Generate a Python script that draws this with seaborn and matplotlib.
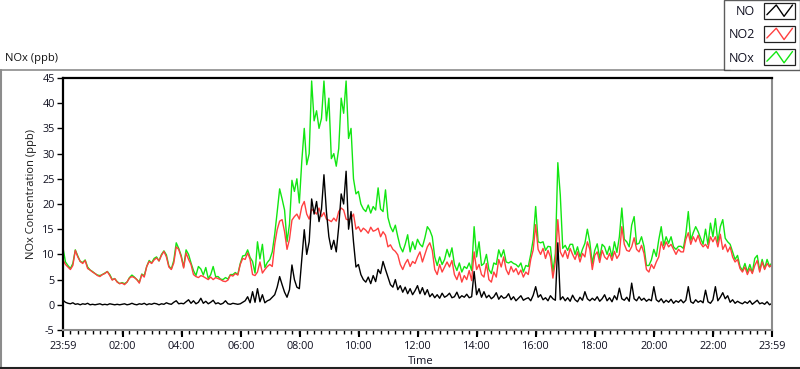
import numpy as np
import pandas as pd
import matplotlib
matplotlib.use("Agg")
import matplotlib.pyplot as plt
import seaborn as sns
from matplotlib.legend_handler import HandlerBase
from matplotlib.patches import Rectangle
from matplotlib.lines import Line2D

# ---------------- data (5-minute samples starting at 23:59) ----------------
no2 = [
    8.9, 8.0, 7.5, 7.0, 7.8, 10.8, 9.5, 8.6, 8.2, 8.8, 7.2, 6.9,
    6.5, 6.2, 5.8, 5.6, 6.0, 6.2, 6.6, 5.8, 4.9, 5.2, 4.5, 4.2,
    4.3, 4.0, 4.5, 5.3, 5.6, 5.4, 5.0, 4.3, 6.0, 5.5, 7.6, 8.6,
    8.2, 8.9, 9.3, 8.7, 9.8, 10.6, 9.5, 7.5, 7.0, 8.3, 11.5, 11.0,
    9.5, 7.3, 10.3, 9.0, 8.0, 6.0, 5.6, 5.4, 5.8, 5.6, 5.3, 5.0,
    5.5, 5.0, 5.4, 5.2, 5.0, 4.7, 4.6, 4.9, 5.9, 5.7, 6.2, 5.9,
    8.0, 9.2, 9.0, 10.3, 9.0, 6.0, 5.8, 6.5, 8.5, 6.3, 7.0, 7.6,
    8.0, 7.6, 12.0, 14.9, 16.6, 16.9, 14.5, 11.0, 13.0, 16.8, 17.5, 18.0,
    17.0, 19.5, 20.5, 18.0, 17.0, 19.0, 18.5, 18.0, 19.2, 17.5, 18.3, 17.0,
    16.8, 16.5, 17.2, 16.6, 18.5, 19.2, 18.8, 17.0, 16.8, 17.2, 18.0, 15.0,
    15.5, 14.5, 15.2, 14.8, 14.2, 15.4, 14.6, 14.8, 15.2, 13.5, 14.5, 13.8,
    11.5, 11.9, 11.0, 10.6, 9.9, 8.0, 7.0, 8.2, 9.0, 7.6, 8.6, 8.2,
    9.5, 10.5, 8.5, 10.0, 11.5, 12.3, 10.8, 7.0, 6.0, 8.0, 6.5, 7.5,
    8.5, 7.5, 8.8, 6.0, 5.0, 6.5, 4.5, 5.8, 5.0, 6.8, 4.8, 10.5,
    7.0, 8.0, 6.0, 5.5, 8.2, 5.0, 4.5, 6.5, 5.5, 9.0, 7.5, 9.5,
    7.0, 6.0, 7.6, 6.5, 7.2, 6.0, 6.9, 5.5, 6.5, 6.0, 9.0, 10.9,
    15.9, 11.0, 10.0, 11.2, 9.2, 10.8, 9.5, 5.3, 8.5, 16.9, 10.5, 9.5,
    10.8, 9.2, 11.2, 10.0, 9.0, 10.5, 8.5, 10.2, 9.5, 12.5, 11.0, 7.0,
    9.8, 10.5, 8.4, 10.8, 9.5, 9.0, 10.2, 8.8, 10.6, 9.2, 10.0, 15.5,
    12.0, 10.8, 10.6, 11.5, 13.3, 11.0, 10.5, 11.8, 10.2, 7.0, 6.5, 8.0,
    7.2, 8.5, 9.5, 12.5, 11.0, 12.5, 11.5, 12.0, 11.0, 10.0, 11.0, 10.5,
    10.5, 13.0, 14.3, 12.0, 13.5, 12.5, 13.8, 12.2, 11.5, 12.0, 11.2, 13.5,
    12.5, 13.5, 11.5, 14.0, 11.0, 12.0, 10.5, 11.5, 9.5, 8.5, 9.0, 7.2,
    6.5, 7.5, 6.0, 7.2, 6.2, 7.8, 8.8, 6.5, 8.5, 7.0, 8.2, 7.5,
    8.0,
]

no = [
    0.9, 0.5, 0.3, 0.2, 0.4, 0.1, 0.2, 0.0, 0.2, 0.1, 0.3, 0.0,
    0.1, 0.0, 0.1, 0.2, 0.0, 0.1, 0.0, 0.2, 0.1, 0.0, 0.1, 0.0,
    0.1, 0.2, 0.0, 0.1, 0.3, 0.1, 0.0, 0.2, 0.1, 0.3, 0.0, 0.2,
    0.1, 0.3, 0.2, 0.0, 0.2, 0.1, 0.4, 0.2, 0.1, 0.5, 0.8, 0.2,
    0.3, 0.2, 0.6, 1.0, 0.3, 0.8, 0.2, 0.5, 1.3, 0.3, 0.7, 0.2,
    0.5, 0.9, 0.2, 0.4, 0.1, 0.3, 0.8, 0.2, 0.1, 0.3, 0.2, 0.1,
    0.2, 0.5, 0.8, 1.6, 0.4, 2.6, 0.5, 3.2, 0.6, 2.0, 0.4, 0.8,
    1.0, 1.5, 2.0, 3.5, 5.6, 4.0, 2.5, 1.5, 3.0, 7.9, 5.0, 3.5,
    3.2, 9.0, 14.9, 10.0, 12.5, 21.0, 18.0, 20.5, 16.5, 19.0, 25.8, 18.5,
    13.5, 11.0, 12.8, 10.5, 15.5, 22.0, 20.0, 26.5, 15.0, 18.5, 12.5, 7.5,
    8.0, 6.0, 5.0, 4.5, 5.5, 4.2, 5.8, 4.6, 7.0, 6.2, 8.6, 7.0,
    5.5, 4.0, 3.5, 5.0, 3.0, 3.8, 2.5, 3.5, 2.2, 3.2, 2.0, 2.8,
    3.8, 2.2, 3.4, 2.0, 3.0, 1.6, 2.2, 1.4, 2.0, 1.3, 2.3, 1.5,
    1.8, 2.3, 1.4, 1.6, 2.5, 1.3, 1.8, 1.5, 2.1, 1.4, 1.6, 6.6,
    2.0, 3.2, 1.5, 2.6, 1.4, 1.9, 1.2, 1.6, 2.4, 1.1, 1.8, 1.3,
    1.5, 2.2, 1.0, 1.6, 0.8, 1.3, 1.8, 0.9, 1.2, 1.4, 0.8, 1.9,
    3.6, 1.5, 2.0, 1.0, 1.4, 0.8, 1.8, 1.2, 0.9, 12.3, 1.0, 1.6,
    0.8, 1.4, 0.7, 1.9, 1.0, 0.6, 1.5, 0.9, 2.6, 1.2, 0.8, 1.3,
    0.9, 1.6, 0.7, 1.2, 2.0, 0.8, 1.4, 0.6, 1.8, 1.0, 3.3, 1.2,
    0.9, 1.5, 0.7, 4.3, 1.2, 0.8, 1.6, 0.9, 1.3, 0.7, 1.1, 0.8,
    3.6, 1.0, 0.6, 1.2, 0.4, 0.9, 0.5, 1.1, 0.3, 0.8, 0.5, 1.0,
    0.4, 0.9, 3.6, 0.6, 0.3, 1.0, 0.5, 0.8, 0.4, 2.9, 0.6, 0.3,
    1.0, 3.6, 0.8, 1.5, 2.4, 1.2, 1.8, 0.5, 1.0, 0.3, 0.7, 0.4,
    0.2, 0.6, 0.3, 0.8, 0.1, 0.5, 0.9, 0.2, 0.4, 0.1, 0.6, 0.0,
    0.3,
]

nox = [
    11.3, 8.5, 7.8, 7.2, 8.2, 10.9, 9.7, 8.6, 8.4, 8.9, 7.5, 6.9,
    6.6, 6.2, 5.9, 5.8, 6.0, 6.3, 6.6, 6.0, 5.0, 5.2, 4.6, 4.2,
    4.4, 4.2, 4.5, 5.4, 5.9, 5.5, 5.0, 4.5, 6.1, 5.8, 7.6, 8.8,
    8.3, 9.2, 9.5, 8.7, 10.0, 10.7, 9.9, 7.7, 7.1, 8.8, 12.3, 11.2,
    9.8, 7.5, 10.9, 10.0, 8.3, 6.8, 5.8, 7.6, 7.1, 5.9, 7.4, 5.2,
    6.0, 7.6, 5.6, 5.6, 5.1, 5.0, 5.4, 5.1, 6.0, 6.0, 6.4, 6.0,
    8.2, 9.7, 9.8, 10.9, 9.4, 8.6, 6.3, 12.5, 9.1, 12.0, 7.4, 8.4,
    9.0, 10.5, 14.0, 18.4, 23.0, 21.0, 18.8, 12.5, 16.0, 24.7, 22.5, 25.0,
    20.2, 28.5, 35.0, 27.8, 30.0, 44.4, 36.5, 38.5, 35.0, 37.0, 44.4, 36.5,
    41.0, 29.0, 30.0, 27.5, 31.0, 41.0, 38.0, 44.4, 33.0, 35.0, 25.0, 22.0,
    22.5, 20.0, 19.0, 18.5, 19.8, 18.2, 19.5, 18.8, 23.2, 19.0, 18.5, 22.8,
    17.3, 15.5, 14.5, 15.8, 13.5, 11.5, 10.5, 12.0, 13.9, 10.5, 12.5, 11.0,
    13.0, 12.0, 11.5, 13.3, 15.5, 14.8, 13.5, 9.5, 7.8, 9.5, 8.0, 9.0,
    11.0, 9.5, 11.3, 8.0, 6.8, 8.3, 6.5, 7.6, 7.2, 8.3, 6.8, 15.5,
    9.5, 12.5, 7.8, 8.2, 10.0, 7.0, 6.2, 8.3, 8.0, 10.9, 9.5, 10.9,
    8.5, 8.3, 8.6, 8.2, 8.0, 7.5, 8.3, 6.5, 7.8, 7.6, 10.0, 13.0,
    19.5, 12.5, 12.3, 12.5, 10.8, 11.6, 11.5, 6.5, 10.2, 28.2, 21.8, 11.2,
    11.8, 10.8, 12.0, 12.0, 10.0, 11.5, 9.5, 11.0, 12.2, 15.0, 12.4, 8.2,
    10.8, 12.1, 9.2, 12.0, 11.5, 10.0, 11.6, 9.5, 12.5, 10.4, 13.5, 19.2,
    13.0, 12.5, 11.5, 15.8, 17.5, 12.0, 12.2, 13.5, 11.6, 7.8, 7.8, 8.9,
    11.0, 9.6, 12.9, 15.5, 11.8, 13.5, 12.2, 13.5, 11.5, 11.0, 11.6, 11.6,
    11.2, 14.0, 18.5, 12.8, 14.3, 15.5, 14.5, 13.2, 12.0, 15.0, 11.9, 16.2,
    13.5, 17.1, 12.4, 15.5, 16.9, 13.2, 12.5, 12.0, 10.5, 9.0, 9.8, 7.6,
    6.8, 8.2, 6.5, 8.0, 6.4, 9.2, 9.8, 6.8, 9.0, 7.2, 9.0, 7.6,
    8.4,
]

series_names = ["NO", "NO2", "NOx"]
series_colors = {"NO": "#000000", "NO2": "#ff4040", "NOx": "#12e612"}
tick_labels = ["23:59", "02:00", "04:00", "06:00", "08:00", "10:00", "12:00",
               "14:00", "16:00", "18:00", "20:00", "22:00", "23:59"]
y_ticks = [-5, 0, 5, 10, 15, 20, 25, 30, 35, 40, 45]

# hours elapsed since 23:59 (5-minute sampling)
t_hours = np.arange(len(no)) / 12.0
df = pd.DataFrame({"t": t_hours, "NO": no, "NO2": no2, "NOx": nox})


def label_to_hours(lbl, idx, n):
    if idx == 0:
        return 0.0
    if idx == n - 1:
        return 24.0
    hh, mm = map(int, lbl.split(":"))
    return ((hh * 60 + mm) - (23 * 60 + 59)) % 1440 / 60.0


xtick_pos = [label_to_hours(l, i, len(tick_labels)) for i, l in enumerate(tick_labels)]

# ---------------- styling ----------------
sns.set_theme(style="white")
plt.rcParams["font.family"] = ["Open Sans", "DejaVu Sans"]
text_color = "#101020"

fig = plt.figure(figsize=(8.0, 3.69), dpi=100)
ax = fig.add_axes([63 / 800, 1 - 330 / 369, (772 - 63) / 800, (330 - 78) / 369])

for name in ["NOx", "NO2", "NO"]:
    sns.lineplot(data=df, x="t", y=name, ax=ax, color=series_colors[name],
                 linewidth=1.0, estimator=None, sort=False, legend=False)

ax.set_xlim(0, 24)
ax.set_ylim(-5, 45)
ax.set_xticks(xtick_pos)
ax.set_xticklabels(tick_labels)
ax.set_xticks(np.arange(0, 24.001, 0.25), minor=True)
ax.set_yticks(y_ticks)
ax.set_yticklabels([str(v) for v in y_ticks])

ax.tick_params(axis="x", which="major", direction="out", length=5, width=1.5,
               color="black", labelsize=7.8, labelcolor=text_color, pad=3, bottom=True)
ax.tick_params(axis="x", which="minor", direction="out", length=3, width=1.0,
               color="black", bottom=True)
ax.tick_params(axis="y", which="major", direction="out", length=4, width=1.0,
               color="black", labelsize=7.8, labelcolor=text_color, pad=2, left=True)

for side, col, lw in [("left", "black", 1.6), ("top", "black", 1.6),
                      ("right", "#8c8c8c", 1.5), ("bottom", "#8c8c8c", 1.5)]:
    ax.spines[side].set_visible(True)
    ax.spines[side].set_color(col)
    ax.spines[side].set_linewidth(lw)

ax.set_xlabel("Time", fontsize=8, color=text_color, labelpad=2)
ax.set_ylabel("NOx Concentration (ppb)", fontsize=8, color="#1a1a1a")
ax.yaxis.set_label_coords(-0.036, 0.54)
ax.xaxis.set_label_coords(0.504, -0.105)

fig.text(5 / 800, 1 - 58 / 369, "NOx (ppb)", fontsize=8, color="#111111",
         ha="left", va="center")

# panel frame lines
fig.add_artist(Line2D([0, 730 / 800], [1 - 69.5 / 369] * 2, color="#8c8c8c", lw=1.2))
fig.add_artist(Line2D([1 / 800, 1 / 800], [1 - 69.5 / 369, 1 - 367.5 / 369], color="#8c8c8c", lw=1.5))
fig.add_artist(Line2D([0, 1], [1 - 367.5 / 369] * 2, color="#222222", lw=1.5))


# ---------------- legend ----------------
class ZigZagHandler(HandlerBase):
    def create_artists(self, legend, orig_handle, xdescent, ydescent, width,
                       height, fontsize, trans):
        x0, y0 = -xdescent, -ydescent - 0.22 * height
        h = height * 1.45
        rect = Rectangle((x0, y0), width, h, facecolor="white",
                         edgecolor="#222222", lw=0.9, transform=trans)
        xs = [x0 + width * f for f in (0.1, 0.4, 0.65, 0.92)]
        ys = [y0 + h * f for f in (0.25, 0.85, 0.15, 0.85)]
        zz = Line2D(xs, ys, color=orig_handle.get_color(), lw=1.0, transform=trans)
        return [rect, zz]


handles = [Line2D([], [], color=series_colors[n]) for n in series_names]
leg = fig.legend(handles, series_names, loc="upper right",
                 bbox_to_anchor=(1.0, 1.0), frameon=True, fancybox=False,
                 markerfirst=False, handler_map={Line2D: ZigZagHandler()},
                 handlelength=2.5, handleheight=1.0, handletextpad=0.7,
                 labelspacing=0.82, borderpad=0.4, borderaxespad=0.0,
                 fontsize=9, labelcolor=text_color)
leg.get_frame().set_edgecolor("#333333")
leg.get_frame().set_linewidth(1.0)

fig.savefig("out.png", dpi=100, facecolor="white")
